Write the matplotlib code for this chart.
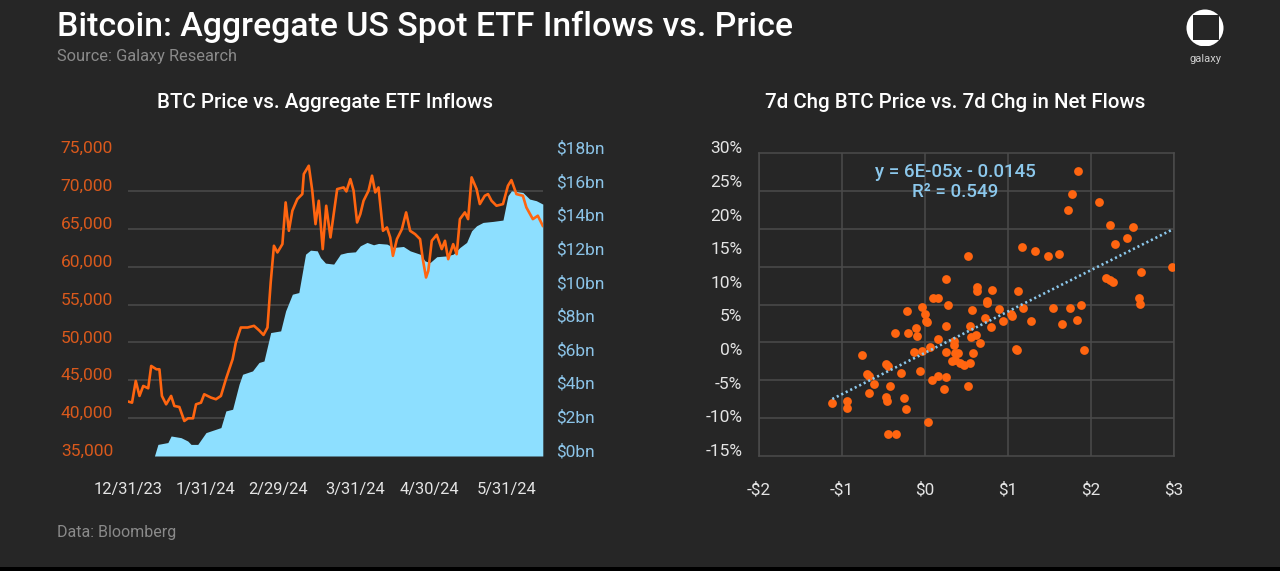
import matplotlib

matplotlib.use("Agg")

import matplotlib.pyplot as plt
import matplotlib.transforms as mtransforms
import numpy as np
import pandas as pd
from matplotlib.patches import Circle, Rectangle

BG = "#262626"
GRID = "#4b4b4b"
ORANGE = "#ff6510"
ORANGE_TXT = "#d9591c"
BLUE_TXT = "#8cc4e8"
FILL = "#8ddfff"
TREND = "#8cc8ec"
LIGHT = "#e4e4e4"
MUTED = "#8a8a8a"

plt.rcParams["font.family"] = ["Roboto", "DejaVu Sans"]

start = pd.Timestamp("2023-12-31")

# BTC price (days after 12/31/23, USD)
price_day = [0, 1.5, 3, 4.5, 6, 8, 9.2, 11.3, 12.5, 13.5, 15.2, 17.2, 18.5, 20.5, 22.5,
             24, 26, 27.2, 29.2, 30.5, 33.2, 35.2, 37.2, 39.2, 41.9, 43.2, 45.2, 47.9,
             50.5, 52.5, 54.3, 55.9, 57.2, 58.5, 59.9, 61.9, 63.2, 64.5, 65.9, 67.9, 69.9,
             70.5, 72.5, 73.9, 75.2, 76.5, 78.1, 79.5, 81.2, 83.9, 86.5, 87.6, 89.2, 90.5,
             91.9, 93.2, 94.5, 96.5, 97.9, 99.2, 100.5, 102.3, 103.9, 105.2, 106.3, 107.9,
             109.9, 111.6, 113.2, 115.2, 117.2, 118.3, 119.6, 120.5, 121.9, 123.9, 125.9,
             127.2, 128.5, 130.5, 131.9, 133.2, 135.2, 136.5, 137.9, 139.9, 141.2, 143.2,
             144.5, 145.9, 147.9, 150.5, 152.5, 153.9, 155.9, 158.5, 159.9, 162.5, 164.5,
             166.5]
price_usd = [42190, 42050, 44920, 42940, 44260, 43950, 46900, 46460, 46460, 42940, 41830,
             42940, 41610, 41480, 39630, 39980, 39980, 41830, 42050, 43160, 42720, 42500,
             42940, 45140, 47790, 49990, 51980, 51980, 52200, 51620, 51000, 51980, 57930,
             62780, 61900, 63000, 68510, 64760, 67410, 68950, 69610, 72260, 73360, 70050,
             65640, 68730, 62340, 68070, 63880, 70270, 70490, 69960, 71590, 70050, 65860,
             66970, 68730, 70050, 72040, 69830, 70490, 64760, 65200, 63880, 61450, 63660,
             64980, 67190, 64760, 64320, 63660, 61010, 58590, 59470, 63440, 64230, 62340,
             63440, 61010, 63000, 61670, 66300, 67190, 66300, 71820, 70270, 68290, 69390,
             69610, 68730, 68070, 68290, 70710, 71460, 69610, 69390, 67850, 66300, 66750,
             65420]

# aggregate US spot ETF net inflows ($bn)
flow_day = [10.5, 11.9, 15.9, 17.2, 21.2, 23.9, 25.2, 27.9, 31.2, 35.2, 37.2, 39.2, 41.9,
            44.5, 45.9, 49.9, 52.5, 54.5, 57.2, 61.2, 63.2, 65.9, 68.5, 71.2, 73.2, 75.9,
            77.2, 79.2, 82.5, 85.2, 87.9, 91.2, 93.2, 95.9, 98.5, 100.5, 103.9, 106.5,
            110.5, 113.2, 117.2, 119.2, 121.2, 123.9, 127.9, 130.5, 133.2, 135.9, 137.9,
            139.9, 142.5, 146.5, 150.5, 152.5, 153.9, 158.5, 161.2, 163.9, 166.5]
flow_bn = [0.0, 0.69, 0.8, 1.19, 1.09, 0.89, 0.69, 0.69, 1.39, 1.59, 1.69, 2.68, 2.78,
           4.27, 4.86, 5.06, 5.56, 5.65, 7.34, 7.44, 8.63, 9.62, 9.72, 12.0, 12.24, 12.2,
           11.8, 11.47, 11.41, 12.0, 12.1, 12.14, 12.5, 12.7, 12.56, 12.64, 12.6, 12.4,
           12.46, 12.2, 12.0, 11.6, 11.5, 11.85, 11.9, 12.0, 12.4, 12.7, 13.39, 13.69,
           13.89, 13.95, 14.03, 15.48, 15.77, 15.67, 15.28, 15.18, 14.98]

date_ticks = ["2023-12-31", "2024-01-31", "2024-02-29", "2024-03-31", "2024-04-30", "2024-05-31"]
date_labels = ["12/31/23", "1/31/24", "2/29/24", "3/31/24", "4/30/24", "5/31/24"]

# 7d change in net flows ($bn) vs 7d change in BTC price (%)
chg_flow = [-1.117, -0.937, -0.937, -0.758, -0.698, -0.670, -0.678, -0.614, -0.471, -0.451,
            -0.419, -0.467, -0.463, -0.443, -0.351, -0.359, -0.291, -0.251, -0.231, -0.211,
            -0.199, -0.132, -0.112, -0.100, -0.060, -0.040, -0.040, 0.0, 0.008, 0.020,
            0.040, 0.056, 0.080, 0.100, 0.152, 0.152, 0.160, 0.231, 0.251, 0.259, 0.259,
            0.275, 0.251, 0.347, 0.355, 0.367, 0.399, 0.327, 0.367, 0.419, 0.467, 0.518,
            0.518, 0.542, 0.542, 0.558, 0.566, 0.574, 0.610, 0.622, 0.622, 0.666, 0.718,
            0.742, 0.742, 0.798, 0.806, 0.893, 0.941, 1.037, 1.053, 1.101, 1.109, 1.117,
            1.165, 1.184, 1.276, 1.320, 1.484, 1.543, 1.615, 1.655, 1.719, 1.751, 1.771,
            1.835, 1.838, 1.882, 1.910, 2.102, 2.185, 2.229, 2.265, 2.233, 2.289, 2.433,
            2.500, 2.600, 2.584, 2.592, 2.980]
chg_price = [-7.07, -6.77, -7.81, 0.02, -2.86, -3.06, -5.68, -4.25, -1.37, -1.62, -4.54,
             -6.18, -6.77, -11.68, -11.68, 3.34, -2.66, -6.38, -8.01, 6.56, 3.24, 0.41,
             4.03, 2.84, -2.31, 7.10, 0.66, 6.06, 5.12, 4.97, -9.99, 1.16, -3.70, 8.54,
             8.44, 2.35, -3.06, -5.09, 11.37, -3.25, 4.33, 7.45, 0.51, 2.10, 1.50, 0.26,
             0.26, -0.88, -0.73, -1.12, -1.47, -4.64, 14.74, -1.22, 4.38, 2.64, 6.71, 0.36,
             2.99, 10.18, 9.53, 1.85, 5.57, 8.00, 7.70, 4.13, 9.63, 6.86, 5.12, 6.06, 5.81,
             0.91, 0.81, 9.53, 16.02, 7.05, 5.12, 15.53, 14.74, 7.00, 15.03, 4.58, 21.52,
             7.05, 23.95, 5.22, 27.37, 7.45, 0.71, 22.81, 11.42, 11.17, 10.92, 19.39, 16.57,
             17.36, 19.05, 12.36, 8.44, 7.60, 13.10]

W, H = 1280, 571
fig = plt.figure(figsize=(W / 100, H / 100), dpi=100, facecolor=BG)
lift = mtransforms.ScaledTranslation(0, 6 / 100, fig.dpi_scale_trans)

# full-figure overlay in pixel coordinates for headings and logo
bg = fig.add_axes([0, 0, 1, 1])
bg.set_xlim(0, W)
bg.set_ylim(H, 0)
bg.axis("off")
bg.set_zorder(-1)

bg.text(57, 27, "Bitcoin: Aggregate US Spot ETF Inflows vs. Price", color="white",
        fontsize=24.4, fontweight="medium", va="center", ha="left")
bg.text(57, 57, "Source: Galaxy Research", color=MUTED, fontsize=11.8, va="center")
bg.text(325, 102, "BTC Price vs. Aggregate ETF Inflows", color="white", fontsize=14.8,
        fontweight="medium", va="center", ha="center")
bg.text(955, 102, "7d Chg BTC Price vs. 7d Chg in Net Flows", color="white", fontsize=14.8,
        fontweight="medium", va="center", ha="center")
bg.text(57, 533, "Data: Bloomberg", color=MUTED, fontsize=11.5, va="center")
bg.add_patch(Rectangle((0, 567), W, 5, color="black", lw=0))

# galaxy logo
bg.add_patch(Circle((1205, 28), 18.5, color="white", lw=0))
bg.add_patch(Rectangle((1185, 46), 40, 6, color=BG, lw=0))
bg.add_patch(Rectangle((1192.5, 15), 26, 25, color=BG, lw=0))
bg.text(1205, 59, "galaxy", color="#cfcfcf", fontsize=8, ha="center", va="center")

bottom = 1 - 456 / H
height = 302.7 / H
width = 415 / W

# left: price vs cumulative flows
ax_flow = fig.add_axes([128.3 / W, bottom, width, height])
ax_flow.set_facecolor("none")
flow_dates = start + pd.to_timedelta(flow_day, unit="D")
ax_flow.fill_between(flow_dates, flow_bn, color=FILL, lw=0, zorder=2)
ax_flow.set_ylim(0, 18)
ax_flow.set_yticks(np.arange(0, 19, 2))
ax_flow.set_yticks(np.linspace(0, 18, 9), minor=True)
ax_flow.set_yticklabels([f"${v}bn" for v in range(0, 19, 2)])
ax_flow.grid(which="minor", axis="y", color=GRID, lw=1.1)
ax_flow.set_axisbelow(True)

ax_price = ax_flow.twinx()
price_dates = start + pd.to_timedelta(price_day, unit="D")
ax_price.plot(price_dates, price_usd, color=ORANGE, lw=1.9, zorder=3)
ax_price.set_ylim(35000, 75000)
ax_price.set_yticks(np.arange(35000, 75001, 5000))
ax_price.set_yticklabels([f"{v:,}" for v in range(35000, 75001, 5000)])
ax_price.yaxis.tick_left()
ax_flow.yaxis.tick_right()

ax_flow.set_xlim(start, start + pd.Timedelta(days=166.7))
ax_flow.set_xticks(pd.to_datetime(date_ticks))
ax_flow.set_xticklabels(date_labels)

for a in (ax_flow, ax_price):
    for s in a.spines.values():
        s.set_visible(False)
ax_flow.tick_params(axis="x", length=0, pad=19, colors=LIGHT, labelsize=11.8)
ax_flow.tick_params(axis="y", which="both", length=0, pad=9, labelsize=12.5)
ax_flow.tick_params(axis="y", labelcolor=BLUE_TXT)
ax_price.tick_params(axis="y", length=0, pad=11, labelsize=12.5, labelcolor=ORANGE_TXT)

# right: scatter of 7d changes
ax_sc = fig.add_axes([759 / W, bottom, width, height])
ax_sc.set_facecolor("none")
ax_sc.scatter(chg_flow, chg_price, s=40, color=ORANGE, lw=0, zorder=3)
coef = np.polyfit(chg_flow, chg_price, 1)
fit_x = np.array([min(chg_flow), max(chg_flow)])
ax_sc.plot(fit_x, np.polyval(coef, fit_x), color=TREND, lw=1.9, ls=(0, (0.8, 1.1)), zorder=4)
eq_tr = mtransforms.blended_transform_factory(fig.transFigure, bg.transData)
ax_sc.text(955 / W, 171.7, "y = 6E-05x - 0.0145", color=TREND, fontsize=13.5,
           fontweight="medium", ha="center", va="center", transform=eq_tr)
ax_sc.text(955 / W, 191.7, "R² = 0.549", color=TREND, fontsize=13.5,
           fontweight="medium", ha="center", va="center", transform=eq_tr)

ax_sc.set_xlim(-2, 3)
ax_sc.set_ylim(-15, 30)
ax_sc.set_xticks(np.arange(-2, 4))
ax_sc.set_xticklabels(["-$2", "-$1", "$0", "$1", "$2", "$3"])
ax_sc.set_yticks(np.arange(-15, 31, 5))
ax_sc.set_yticklabels([f"{v}%" for v in range(-15, 31, 5)])
ax_sc.set_yticks(np.linspace(-15, 30, 9), minor=True)
ax_sc.grid(which="major", axis="x", color=GRID, lw=1.1)
ax_sc.grid(which="minor", axis="y", color=GRID, lw=1.1)
ax_sc.set_axisbelow(True)
for s in ax_sc.spines.values():
    s.set_color(GRID)
    s.set_linewidth(1.1)
ax_sc.tick_params(axis="x", length=0, pad=19, colors=LIGHT, labelsize=12.3)
ax_sc.tick_params(axis="y", which="both", length=0, pad=12, colors=LIGHT, labelsize=12.5)

fig.canvas.draw()
for a in (ax_flow, ax_price, ax_sc):
    for lbl in a.get_yticklabels():
        lbl.set_transform(lbl.get_transform() + lift)

fig.savefig("out.png", dpi=100, facecolor=BG)
plt.close(fig)
